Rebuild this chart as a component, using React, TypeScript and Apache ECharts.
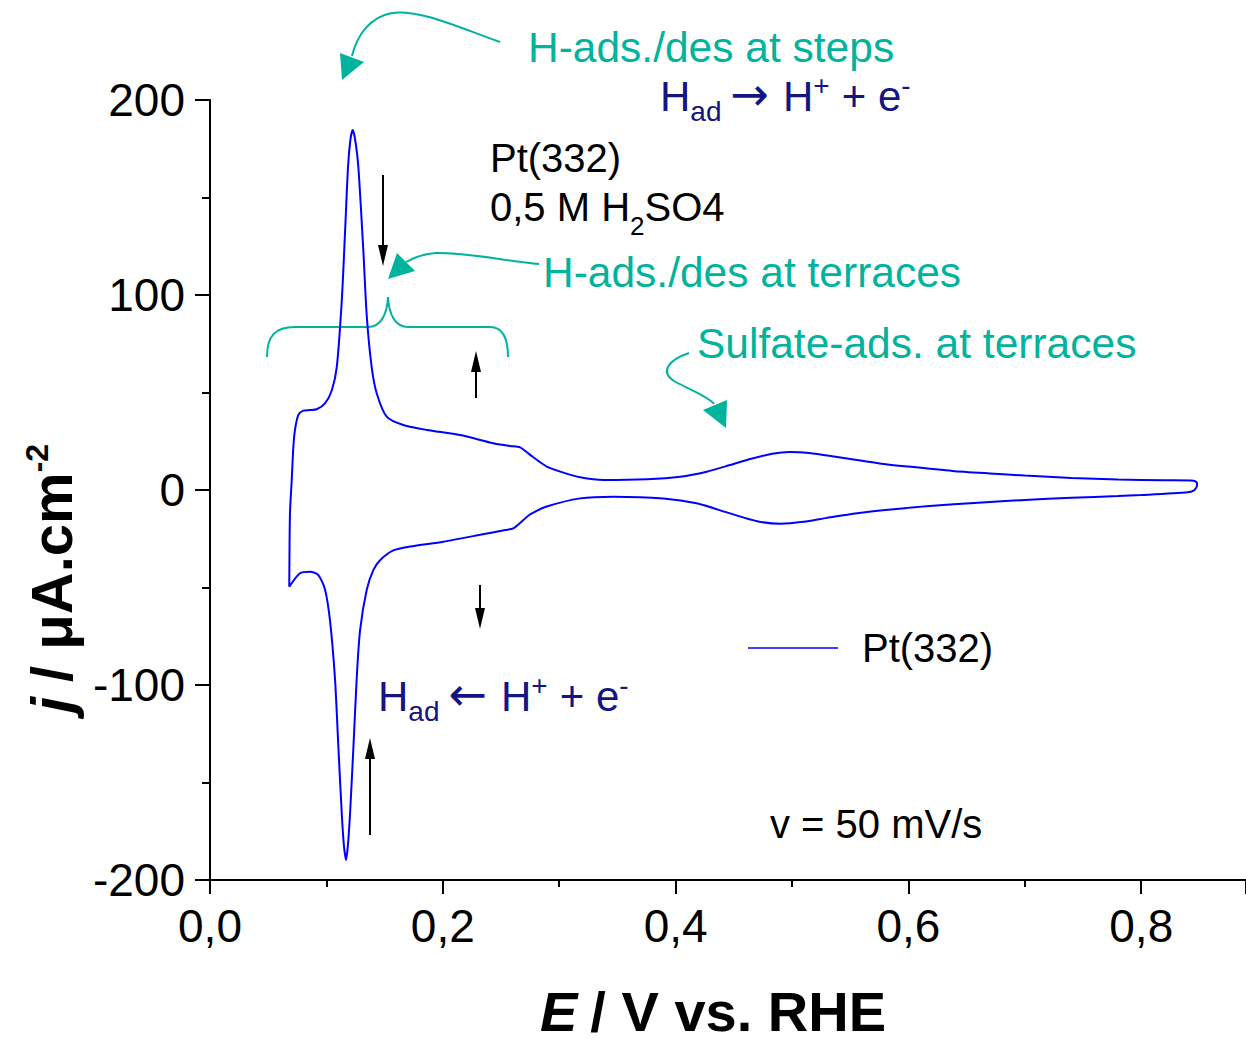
import React, { useEffect, useRef } from 'react';
import * as echarts from 'echarts';

// ---- Data ----
// Anodic sweep (E increasing), E in V vs. RHE, j in µA/cm²
const anodicE = [0.0681, 0.0687, 0.0702, 0.0716, 0.0730, 0.0759, 0.0802, 0.0860, 0.0917, 0.0988, 0.1046, 0.1089, 0.1132, 0.1160, 0.1186, 0.1207, 0.1226, 0.1246, 0.1274, 0.1317, 0.1347, 0.1389, 0.1432, 0.1518, 0.1661, 0.1862, 0.2148, 0.2432, 0.2578, 0.2664, 0.2750, 0.2893, 0.3036, 0.3179, 0.3381, 0.3753, 0.4039, 0.4268, 0.4468, 0.4650, 0.4830, 0.4980, 0.5150, 0.5400, 0.5770, 0.6000, 0.6380, 0.6700, 0.7000, 0.7400, 0.7800, 0.8200, 0.8450, 0.8480, 0.8475, 0.8450];
const anodicJ = [-49.6, -12, 5, 22, 30.8, 38.5, 40.7, 41.0, 41.4, 44.4, 51, 63, 97, 132, 166, 180, 184.6, 180, 166, 123, 89, 63, 49.6, 37.6, 33.3, 30.8, 28.2, 24, 22.6, 21.9, 18, 12, 8.9, 6.5, 5.1, 5.5, 6.8, 9.4, 12.8, 16.0, 18.6, 19.5, 19.0, 16.8, 13.5, 12.0, 9.8, 8.5, 7.4, 6.2, 5.4, 5.0, 4.8, 3.5, 1.5, -0.3];
// Cathodic sweep (E decreasing)
const cathodicE = [0.8400, 0.8000, 0.7800, 0.7400, 0.7000, 0.6600, 0.6180, 0.5850, 0.5560, 0.5300, 0.5100, 0.4900, 0.4700, 0.4468, 0.4180, 0.3895, 0.3466, 0.3180, 0.2893, 0.2750, 0.2692, 0.2606, 0.2537, 0.2320, 0.2004, 0.1719, 0.1575, 0.1461, 0.1404, 0.1347, 0.1289, 0.1260, 0.1232, 0.1203, 0.1185, 0.1169, 0.1150, 0.1132, 0.1103, 0.1074, 0.1031, 0.0988, 0.0931, 0.0860, 0.0773, 0.0681];
const cathodicJ = [-1.2, -2.6, -3.1, -4.0, -5.1, -6.5, -8.2, -10.0, -11.9, -14.3, -16.3, -17.3, -16.0, -12.0, -6.8, -4.3, -3.4, -4.3, -8.5, -12.5, -15.4, -19.7, -20.5, -23, -26.5, -29, -31, -36, -41, -51, -72, -97, -132, -166, -182, -189.7, -182, -166, -132, -97, -67, -51, -43.6, -41.9, -42.7, -49.6];

const seriesName = 'Pt(332)';
const xTickValues = [0, 0.2, 0.4, 0.6, 0.8];
const yTickValues = [-200, -100, 0, 100, 200];

const FONT = '"Liberation Sans", Arial, Helvetica, sans-serif';
const ARROW_FONT = '"DejaVu Sans", sans-serif';
const TEAL = '#00b39c';
const NAVY = '#141482';
const BLUE = '#0000ff';

// Shapes for annotation arrows
echarts.graphic.registerShape('stepsCurve', echarts.graphic.extendPath('M500,42 C460,28 420,9 392,13 C370,17 357,35 352,56', {}));
echarts.graphic.registerShape('terraceCurve', echarts.graphic.extendPath('M539,264 C500,260 462,252 436,253 C421,254 413,258 406,262', {}));
echarts.graphic.registerShape('braceCurve', echarts.graphic.extendPath('M267,357 C267,336 275,327 295,327 L368,327 C380,327 387,316 388,297 C389,316 396,327 408,327 L490,327 C502,327 508,338 508,357', {}));
echarts.graphic.registerShape('sulfateCurve', echarts.graphic.extendPath('M689,353 C668,360 660,372 674,381 C690,390 708,396 714,404', {}));

let measureCtx: CanvasRenderingContext2D | null = null;
function measure(text: string, size: number, weight = 'normal', style = 'normal', family = FONT) {
  if (!measureCtx) measureCtx = document.createElement('canvas').getContext('2d');
  measureCtx!.font = `${style} ${weight} ${size}px ${family}`;
  return measureCtx!.measureText(text).width;
}

type Run = { t: string; s: number; w?: string; i?: boolean; dy?: number; g?: number; f?: string };
function runText(x: number, baseline: number, runs: Run[], color: string) {
  const els: any[] = [];
  let cx = x;
  for (const r of runs) {
    cx += r.g || 0;
    const w = r.w || 'normal';
    const st = r.i ? 'italic' : 'normal';
    const fam = r.f || FONT;
    els.push({
      type: 'text',
      x: cx,
      y: baseline + (r.dy || 0) - 0.3465 * r.s,
      silent: true,
      style: {
        text: r.t, fontSize: r.s, fontWeight: w, fontStyle: st, fontFamily: fam, fill: color,
        align: 'left', verticalAlign: 'middle', textAlign: 'left', textVerticalAlign: 'middle',
      },
    });
    cx += measure(r.t, r.s, w, st, fam);
  }
  return els;
}

function arrowDown(x: number, y1: number, tip: number) {
  return [
    { type: 'line', silent: true, shape: { x1: x, y1, x2: x, y2: tip - 16 }, style: { stroke: '#000', lineWidth: 2 } },
    { type: 'polygon', silent: true, shape: { points: [[x - 5, tip - 21], [x + 5, tip - 21], [x, tip]] }, style: { fill: '#000' } },
  ];
}
function arrowUp(x: number, y1: number, tip: number) {
  return [
    { type: 'line', silent: true, shape: { x1: x, y1, x2: x, y2: tip + 16 }, style: { stroke: '#000', lineWidth: 2 } },
    { type: 'polygon', silent: true, shape: { points: [[x - 5, tip + 21], [x + 5, tip + 21], [x, tip]] }, style: { fill: '#000' } },
  ];
}

function reaction(x: number, baseline: number, arrow: string) {
  return runText(x, baseline, [
    { t: 'H', s: 42 }, { t: 'ad', s: 28, dy: 10 }, { g: 9, t: arrow, s: 46, f: ARROW_FONT, dy: -1 },
    { g: 14, t: 'H', s: 42 }, { t: '+', s: 28, dy: -16 }, { g: 12, t: '+ e', s: 42 }, { t: '-', s: 28, dy: -16 },
  ], NAVY);
}

export default function App() {
  const ref = useRef<HTMLDivElement>(null);
  useEffect(() => {
    document.body.style.margin = '0';
    const chart = echarts.init(ref.current!, null, { renderer: 'svg' });
    const data: number[][] = [];
    anodicE.forEach((e, k) => data.push([e, anodicJ[k]]));
    cathodicE.forEach((e, k) => data.push([e, cathodicJ[k]]));

    const tealStroke = { stroke: TEAL, fill: 'none', lineWidth: 2 };
    const graphics: any[] = [
      // teal annotation curves and heads
      { type: 'stepsCurve', silent: true, x: 0, y: 0, style: tealStroke },
      { type: 'polygon', silent: true, shape: { points: [[340, 53], [364, 62], [342, 80]] }, style: { fill: TEAL } },
      { type: 'terraceCurve', silent: true, x: 0, y: 0, style: tealStroke },
      { type: 'polygon', silent: true, shape: { points: [[397, 253], [415, 271], [388, 279]] }, style: { fill: TEAL } },
      { type: 'braceCurve', silent: true, x: 0, y: 0, style: tealStroke },
      { type: 'sulfateCurve', silent: true, x: 0, y: 0, style: tealStroke },
      { type: 'polygon', silent: true, shape: { points: [[703, 410], [727, 400], [726, 428]] }, style: { fill: TEAL } },
      // black arrows
      ...arrowDown(383, 175, 266),
      ...arrowUp(476, 398, 351),
      ...arrowDown(480, 585, 629),
      ...arrowUp(370, 835, 738),
      // texts
      ...runText(528, 62, [{ t: 'H-ads./des at steps', s: 42.5 }], TEAL),
      ...reaction(660, 111, '\u2192'),
      ...runText(490, 172, [{ t: 'Pt(332)', s: 40 }], '#000'),
      ...runText(490, 221, [{ t: '0,5 M H', s: 40 }, { t: '2', s: 26, dy: 14 }, { t: 'SO4', s: 40 }], '#000'),
      ...runText(543, 287, [{ t: 'H-ads./des at terraces', s: 42.5 }], TEAL),
      ...runText(697, 358, [{ t: 'Sulfate-ads. at terraces', s: 42.5 }], TEAL),
      ...reaction(378, 711, '\u2190'),
      ...runText(770, 838, [{ t: 'v = 50 mV/s', s: 40 }], '#000'),
      // axis titles
      ...runText(540, 1031, [{ t: 'E', s: 56, w: 'bold', i: true }, { g: 13, t: '/ V vs. RHE', s: 56, w: 'bold' }], '#000'),
      {
        type: 'group', x: 72, y: 713, rotation: Math.PI / 2, silent: true,
        children: runText(0, 0, [
          { t: 'j', s: 58, w: 'bold', i: true },
          { g: 15, t: '/ \u03bcA.cm', s: 58, w: 'bold' },
          { t: '-2', s: 32, w: 'bold', dy: -24 },
        ], '#000'),
      },
    ];

    const axisLineStyle = { color: '#000', width: 2 };
    const option: any = {
      animation: false,
      backgroundColor: '#fff',
      textStyle: { fontFamily: FONT },
      grid: { left: 210, right: 0, top: 100, bottom: 164, containLabel: false },
      legend: {
        show: true,
        data: [{ name: seriesName, icon: 'path://M0,0 L90,0 L90,1.5 L0,1.5 Z' }],
        left: 748,
        top: 628,
        padding: 0,
        itemWidth: 90,
        itemHeight: 14,
        symbolKeepAspect: true,
        itemStyle: { color: BLUE },
        textStyle: { fontSize: 40, color: '#000', fontFamily: FONT, padding: [0, 0, 0, 19] },
      },
      xAxis: {
        type: 'value',
        min: 0,
        max: 0.89,
        interval: 0.2,
        axisLine: { show: true, onZero: false, lineStyle: axisLineStyle },
        axisTick: { show: true, inside: false, length: 14, lineStyle: axisLineStyle },
        minorTick: { show: true, splitNumber: 2, length: 7, lineStyle: axisLineStyle },
        splitLine: { show: false },
        minorSplitLine: { show: false },
        axisLabel: {
          show: true, fontSize: 46, color: '#000', margin: 23, fontFamily: FONT, showMaxLabel: false,
          formatter: (v: number) => {
            const hit = xTickValues.find((t) => Math.abs(t - v) < 1e-6);
            return hit === undefined ? '' : hit.toFixed(1).replace('.', ',');
          },
        },
      },
      yAxis: {
        type: 'value',
        min: -200,
        max: 200,
        interval: 100,
        axisLine: { show: true, onZero: false, lineStyle: axisLineStyle },
        axisTick: { show: true, inside: false, length: 15, lineStyle: axisLineStyle },
        minorTick: { show: true, splitNumber: 2, length: 8, lineStyle: axisLineStyle },
        splitLine: { show: false },
        minorSplitLine: { show: false },
        axisLabel: {
          show: true, fontSize: 46, color: '#000', margin: 25, fontFamily: FONT,
          formatter: (v: number) => {
            const hit = yTickValues.find((t) => Math.abs(t - v) < 1e-6);
            return hit === undefined ? '' : String(hit);
          },
        },
      },
      series: [
        {
          type: 'line',
          name: seriesName,
          data,
          symbol: 'none',
          showSymbol: false,
          smooth: 0.25,
          clip: false,
          lineStyle: { color: BLUE, width: 2 },
          itemStyle: { color: BLUE },
        },
      ],
      graphic: graphics,
    };
    chart.setOption(option);
    return () => chart.dispose();
  }, []);
  return <div ref={ref} style={{ position: 'absolute', left: 0, top: 0, width: 1246, height: 1044 }} />;
}
